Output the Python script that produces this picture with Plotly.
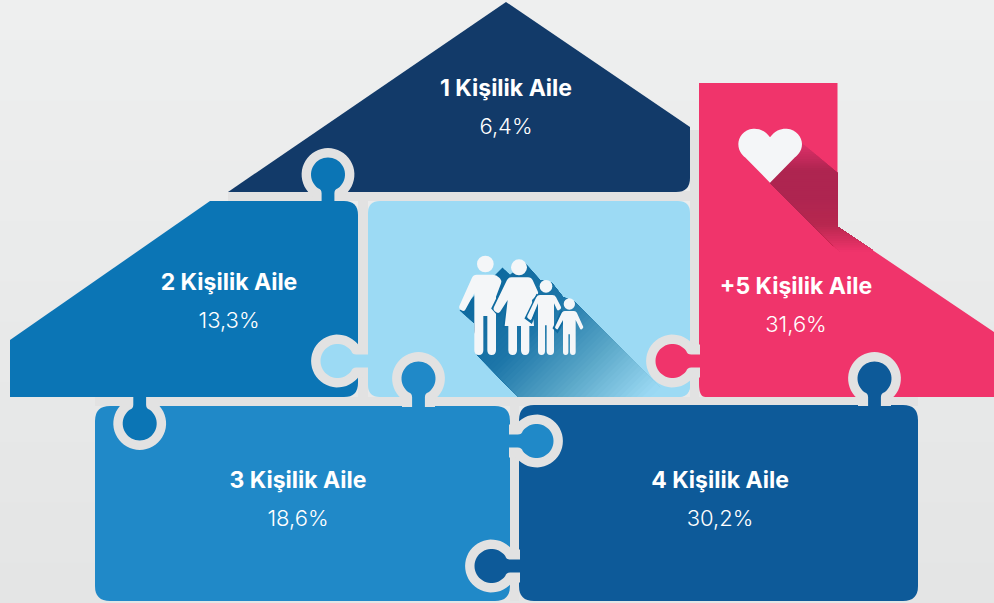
import math
import plotly.graph_objects as go

# ---- data ----
categories = ["1 Kişilik Aile", "2 Kişilik Aile", "3 Kişilik Aile", "4 Kişilik Aile", "+5 Kişilik Aile"]
shares = ["6,4%", "13,3%", "18,6%", "30,2%", "31,6%"]
label_x = [506, 229, 298, 720, 796]
label_y = [90.5, 284.5, 482.5, 482.5, 288.5]
value_gap = 37.5

NAVY = "#123a69"
BLUE2 = "#0b75b5"
SKY = "#9cdaf4"
BLUE3 = "#2089c8"
BLUE4 = "#0d5a99"
PINK = "#f0346b"
GAP = "#e2e2e2"
WHITE = "#f4f6f8"
shapes = []


def add_path(d, fill, line=None, lw=0):
    shapes.append(dict(type="path", path=d, fillcolor=fill, layer="below", xref="x", yref="y",
                       line=dict(color=line or "rgba(0,0,0,0)", width=lw)))


def rounded(pts):
    """pts: (x, y, r). Polygon with quadratic-rounded corners."""
    n = len(pts)
    d = []
    for i in range(n):
        x, y, r = pts[i]
        px, py, _ = pts[i - 1]
        nx, ny, _ = pts[(i + 1) % n]
        if r <= 0:
            d.append(f"{'M' if i == 0 else 'L'}{x:.2f},{y:.2f}")
            continue
        l1 = math.hypot(px - x, py - y)
        l2 = math.hypot(nx - x, ny - y)
        r1, r2 = min(r, l1 / 2), min(r, l2 / 2)
        a = (x + (px - x) * r1 / l1, y + (py - y) * r1 / l1)
        b = (x + (nx - x) * r2 / l2, y + (ny - y) * r2 / l2)
        d.append(f"{'M' if i == 0 else 'L'}{a[0]:.2f},{a[1]:.2f}Q{x:.2f},{y:.2f} {b[0]:.2f},{b[1]:.2f}")
    return "".join(d) + "Z"


def poly(pts):
    return "M" + "L".join(f"{x:.2f},{y:.2f}" for x, y in pts) + "Z"


def clip(pts, a, b, c):
    """Keep the part of a polygon where a*x+b*y<=c."""
    out = []
    for i in range(len(pts)):
        p, q = pts[i], pts[(i + 1) % len(pts)]
        fp, fq = a * p[0] + b * p[1] - c, a * q[0] + b * q[1] - c
        if fp <= 0:
            out.append(p)
        if fp * fq < 0:
            t = fp / (fp - fq)
            out.append((p[0] + (q[0] - p[0]) * t, p[1] + (q[1] - p[1]) * t))
    return out


def mix(c1, c2, t):
    v1 = [int(c1[i:i + 2], 16) for i in (1, 3, 5)]
    v2 = [int(c2[i:i + 2], 16) for i in (1, 3, 5)]
    return "rgb(%d,%d,%d)" % tuple(round(a + (b - a) * t) for a, b in zip(v1, v2))


def bands(pts, a, b, lo, hi, stops):
    """Fake a linear gradient with thin clipped polygon bands along a*x+b*y.
    Painted in order with each band running to the far end, so no seams show."""
    n = 48
    for i in range(n):
        u0 = lo + (hi - lo) * i / n
        part = clip(pts, -a, -b, -u0)
        if len(part) < 3:
            continue
        t = (i + .5) / n * (len(stops) - 1)
        k = min(int(t), len(stops) - 2)
        add_path(poly(part), mix(stops[k], stops[k + 1], t - k))


def knob(cx, cy, r, neck, theta, flare, base, direction):
    """Keyhole piece. direction is the way from the circle to its base; base is an absolute coordinate."""
    ux, uy = {"down": (1, 0), "up": (-1, 0), "right": (0, 1), "left": (0, -1)}[direction]
    vx, vy = {"down": (0, 1), "up": (0, -1), "right": (1, 0), "left": (-1, 0)}[direction]
    length = (base - cx) * vx + (base - cy) * vy

    def P(u, v):
        return cx + ux * u + vx * v, cy + uy * u + vy * v

    th = math.radians(theta)
    ex, ev = r * math.sin(th), r * math.cos(th)
    d = []
    a = P(-neck, length)
    d.append(f"M{a[0]:.2f},{a[1]:.2f}")
    a = P(-neck, ev + flare)
    d.append(f"L{a[0]:.2f},{a[1]:.2f}")
    c = P(-neck, ev + flare * .2)
    e = P(-ex, ev)
    d.append(f"Q{c[0]:.2f},{c[1]:.2f} {e[0]:.2f},{e[1]:.2f}")
    steps = 40
    for i in range(1, steps + 1):
        ang = -th - (2 * math.pi - 2 * th) * i / steps
        p = P(r * math.sin(ang), r * math.cos(ang))
        d.append(f"L{p[0]:.2f},{p[1]:.2f}")
    c = P(neck, ev + flare * .2)
    e = P(neck, ev + flare)
    d.append(f"Q{c[0]:.2f},{c[1]:.2f} {e[0]:.2f},{e[1]:.2f}")
    e = P(neck, length)
    d.append(f"L{e[0]:.2f},{e[1]:.2f}Z")
    return "".join(d)


def puzzle_tab(cx, cy, base, direction, color):
    add_path(knob(cx, cy, 26.4, 16.5, 34, 4, base, direction), GAP)
    add_path(knob(cx, cy, 17, 6.4, 36, 5, base, direction), color)


# ---- background ----
for i in range(30):
    y0, y1 = i * 603 / 30, (i + 1) * 603 / 30 + 1
    shapes.append(dict(type="rect", x0=0, x1=994, y0=y0, y1=y1, layer="below", line=dict(width=0),
                       fillcolor=mix("#eeefef", "#e4e5e5", i / 29)))
# gaps between the panels
add_path(poly([(228, 191), (690, 191), (690, 201), (228, 201)]), GAP)
add_path(poly([(95, 397), (918, 397), (918, 406), (95, 406)]), GAP)
add_path(poly([(358, 201), (368, 201), (368, 397), (358, 397)]), GAP)
add_path(poly([(510, 406), (519, 406), (519, 601), (510, 601)]), GAP)
add_path(poly([(690, 130), (699, 130), (699, 397), (690, 397)]), GAP)

# ---- panels ----
add_path(rounded([(506, 2, 0), (690, 127, 0), (690, 192, 14), (228, 192, 0)]), NAVY)
add_path(rounded([(210, 201, 0), (358, 201, 14), (358, 397, 14), (10, 397, 0), (10, 340, 0)]), BLUE2)
sky_panel = [(368, 201, 12), (690, 201, 12), (690, 397, 12), (368, 397, 12)]
add_path(rounded(sky_panel), SKY)
add_path(rounded([(699, 83, 0), (837.5, 83, 0), (837.5, 226.5, 0), (994, 332, 0), (994, 397, 0),
                  (712, 397, 0), (699, 397, 13)]), PINK)
add_path(rounded([(95, 406, 15), (510, 406, 15), (510, 601, 15), (95, 601, 15)]), BLUE3)
add_path(rounded([(519, 405, 15), (918, 405, 15), (918, 601, 15), (519, 601, 15)]), BLUE4)

# ---- family shadow ----
family_shadow = [(459, 310), (493, 258), (510, 275), (525, 263), (540, 280), (552, 283), (563, 297), (575, 302),
                 (670, 397), (518, 397), (477, 355), (474, 323)]
bands(family_shadow, 1, 1, 770, 1045, ["#0e6a9f", "#1c75a8", "#5aa7c8", "#9cdaf4"])
add_path(rounded([(650, 397, 0), (690, 397, 12), (690, 360, 0)]), SKY)

# ---- heart shadow ----
heart_shadow = [(801.7, 143), (837.6, 173), (837.6, 226.7), (873, 250.5), (873, 252), (840, 252), (770, 183)]
bands(heart_shadow, 0, 1, 143, 252, ["#e0306a", "#ae2550", "#ae2550", "#b7274f", "#f0346b"])

# ---- tabs ----
puzzle_tab(328, 174.5, 201, "down", BLUE2)
puzzle_tab(337.5, 361, 368, "right", SKY)
puzzle_tab(418.5, 378.5, 407, "down", BLUE3)
puzzle_tab(139.7, 423.5, 397, "up", BLUE2)
puzzle_tab(536.5, 441, 509, "left", BLUE3)
puzzle_tab(491.5, 566, 520, "right", BLUE4)
puzzle_tab(874.5, 378.5, 406, "down", BLUE4)
puzzle_tab(672.5, 361, 700, "right", PINK)


# ---- family ----
def Z(x, y, r=0):
    return 440 + x / 3, 240 + y / 3, r / 3


def head(x, y, r):
    cx, cy, rr = Z(x, y, r)
    shapes.append(dict(type="circle", x0=cx - rr, x1=cx + rr, y0=cy - rr, y1=cy + rr, layer="below",
                       fillcolor=WHITE, line=dict(width=0)))


def gap_line(pts):
    d = "M" + "L".join("%.2f,%.2f" % Z(x, y)[:2] for x, y in pts)
    shapes.append(dict(type="path", path=d, layer="below", fillcolor="rgba(0,0,0,0)",
                       line=dict(color="#0f6ba0", width=2.5)))


man = [(100, 104, 10), (170, 104, 12), (186, 122, 8), (168, 170, 0), (168, 345, 14), (142, 345, 14), (142, 228, 0),
       (130, 228, 0), (130, 345, 14), (103, 345, 14), (103, 160, 0), (72, 216, 9), (55, 205, 9)]
woman = [(205, 112, 10), (274, 112, 10), (296, 160, 6), (276, 180, 0), (282, 258, 0), (268, 258, 0), (268, 345, 14),
         (243, 345, 14), (243, 258, 0), (231, 258, 0), (231, 345, 14), (205, 345, 14), (205, 258, 0), (194, 258, 0),
         (203, 180, 0), (176, 222, 9), (158, 209, 9)]
boy = [(292, 165, 8), (345, 165, 8), (365, 205, 5), (353, 213, 5), (342, 190, 0), (342, 345, 11), (320, 345, 11),
       (320, 256, 0), (315, 256, 0), (315, 345, 11), (294, 345, 11), (294, 190, 0), (273, 241, 5), (260, 232, 5)]
child = [(368, 213, 6), (408, 213, 6), (431, 263, 4), (422, 270, 4), (407, 240, 0), (407, 345, 9), (390, 345, 9),
         (390, 283, 0), (385, 283, 0), (385, 345, 9), (369, 345, 9), (369, 240, 0), (352, 270, 4), (344, 263, 4)]

add_path(rounded([Z(*p) for p in man]), WHITE)
head(136, 72, 25)
gap_line([(205, 110), (158, 205), (176, 225), (203, 185), (192, 262)])
add_path(rounded([Z(*p) for p in woman]), WHITE)
head(237, 82, 24)
gap_line([(293, 163), (258, 234), (274, 246), (292, 200)])
add_path(rounded([Z(*p) for p in boy]), WHITE)
head(318, 139, 19)
gap_line([(366, 212), (342, 264), (352, 274), (368, 245)])
add_path(rounded([Z(*p) for p in child]), WHITE)
head(388, 192, 17)


# ---- heart ----
def H(x, y):
    return "%.2f,%.2f" % (690 + x / 3, 80 + y / 3)


heart = ("M" + H(240, 172) + "C" + H(225, 150) + " " + H(205, 145) + " " + H(190, 146)
         + "C" + H(160, 148) + " " + H(145, 172) + " " + H(145, 192)
         + "C" + H(145, 215) + " " + H(160, 228) + " " + H(165, 232)
         + "L" + H(240, 308) + "L" + H(315, 232)
         + "C" + H(320, 228) + " " + H(336, 215) + " " + H(336, 192)
         + "C" + H(336, 172) + " " + H(320, 148) + " " + H(290, 146)
         + "C" + H(275, 145) + " " + H(255, 150) + " " + H(240, 172) + "Z")
add_path(heart, WHITE)

# ---- texts ----
fig = go.Figure()
fig.add_trace(go.Scatter(x=label_x, y=label_y, mode="text", text=categories, hoverinfo="skip", showlegend=False,
                         textposition="middle center",
                         textfont=dict(family="Inter", size=23, color="#ffffff", weight=700)))
fig.add_trace(go.Scatter(x=label_x, y=[v + value_gap for v in label_y], mode="text", text=shares, hoverinfo="skip",
                         showlegend=False, textposition="middle center",
                         textfont=dict(family="Inter", size=22, color="#ffffff", weight=300)))
fig.update_layout(width=994, height=603, margin=dict(l=0, r=0, t=0, b=0), shapes=shapes,
                  paper_bgcolor="#e9eaea", plot_bgcolor="#e9eaea",
                  xaxis=dict(range=[0, 994], visible=False, fixedrange=True),
                  yaxis=dict(range=[603, 0], visible=False, fixedrange=True))
fig.write_html("out.html", config=dict(displayModeBar=False),
               post_script="document.body.style.margin='0';document.body.style.overflow='hidden';")
